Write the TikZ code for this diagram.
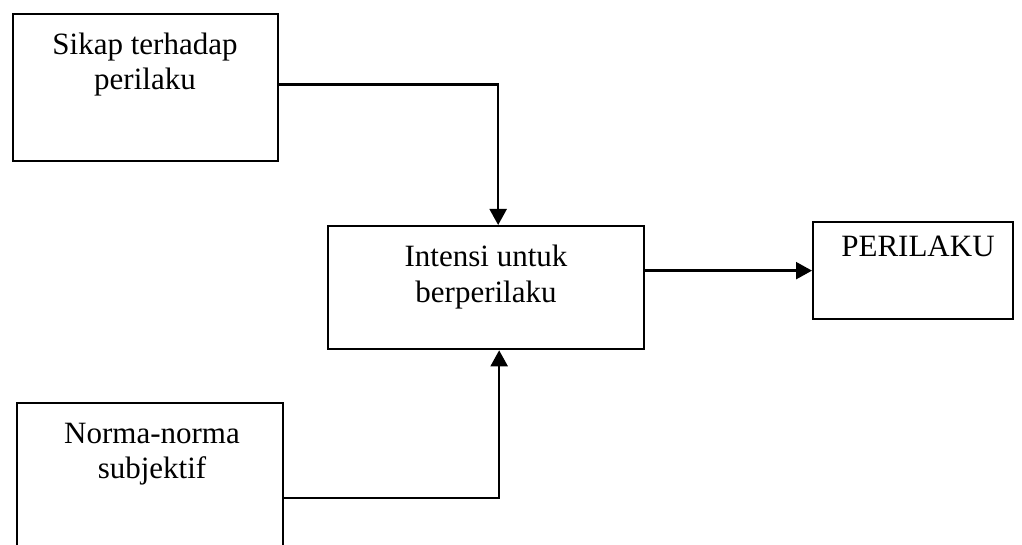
\documentclass[tikz,border=0pt]{standalone}
\usepackage{fontspec}
\setmainfont{Liberation Serif}
\usetikzlibrary{arrows.meta}
\begin{document}
\begin{tikzpicture}[x=1pt,y=-1pt,
  box/.style={draw=black,line width=2.3pt,rectangle,inner sep=0pt,anchor=north west},
  txt/.style={anchor=base,inner sep=0pt,font=\fontsize{31}{36}\selectfont},
  conn/.style={line width=2.3pt,-{Triangle[length=16pt,width=17pt]}}]
\clip (0,0) rectangle (1022,545);
\fill[white] (0,0) rectangle (1022,545);
% boxes
\node[box,minimum width=265pt,minimum height=147pt] (b1) at (12,13) {};
\node[box,minimum width=316pt,minimum height=123pt] (b2) at (327,225) {};
\node[box,minimum width=200pt,minimum height=97pt] (b3) at (812,221) {};
\node[box,minimum width=266pt,minimum height=190pt] (b4) at (16,402) {};
% texts
\node[txt] (t1a) at (145,55) {Sikap terhadap};
\node[txt] (t1b) at (145,90) {perilaku};
\node[txt] (t2a) at (486,266) {Intensi untuk};
\node[txt] (t2b) at (486,302) {berperilaku};
\node[txt] (t3) at (918,257) {PERILAKU};
\node[txt] (t4a) at (152,443) {Norma-norma};
\node[txt] (t4b) at (152,478) {subjektif};
% connectors
\draw[conn] ([yshift=3pt]b1.east) -| ([xshift=12pt]b2.north);
\draw[conn] (b2.east |- b3.west) -- (b3.west);
\draw[conn] (b4.east) -| ([xshift=13pt]b2.south);
\end{tikzpicture}
\end{document}
